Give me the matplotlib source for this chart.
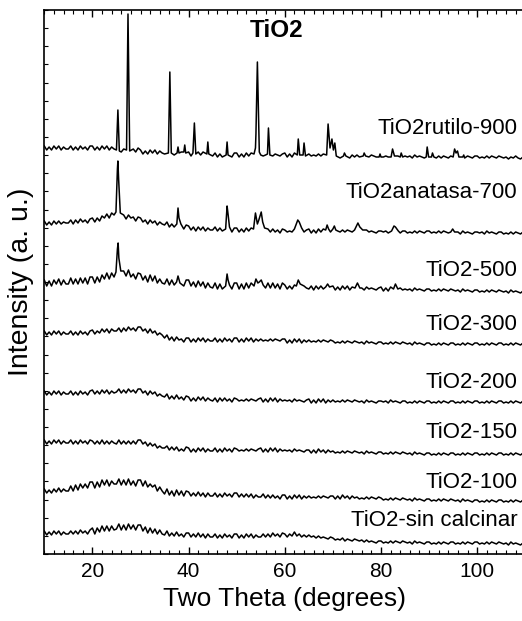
import numpy as np
import matplotlib
matplotlib.use("Agg")
import matplotlib.pyplot as plt
from matplotlib.ticker import MultipleLocator

# two theta grid for the background, 0.5 degree steps (10..110)
two_theta = np.arange(10, 110.5, 0.5)

# background intensity (a. u., already offset per sample)
rutilo_900 = [
    408, 404, 407, 404, 408, 405, 408, 404, 407, 405,
    405, 408, 404, 407, 404, 408, 405, 407, 404, 408,
    408, 404, 407, 404, 408, 405, 408, 404, 407, 405,
    403, 406, 402, 405, 402, 406, 403, 405, 402, 406,
    404, 400, 403, 400, 404, 401, 404, 400, 403, 401,
    400, 403, 399, 402, 399, 403, 400, 402, 399, 403,
    402, 398, 401, 398, 402, 399, 402, 398, 401, 399,
    398, 401, 397, 400, 397, 401, 398, 400, 397, 401,
    401, 397, 400, 397, 401, 398, 401, 397, 400, 398,
    400, 398, 399, 398, 400, 398, 400, 399, 398, 400,
    401, 397, 400, 397, 401, 398, 401, 397, 400, 398,
    400, 398, 399, 398, 400, 398, 400, 399, 398, 400,
    400, 396, 399, 396, 400, 397, 400, 396, 399, 397,
    399, 397, 398, 397, 399, 397, 399, 398, 397, 399,
    399, 397, 398, 397, 399, 397, 399, 398, 397, 399,
    398, 397, 398, 396, 399, 397, 398, 397, 396, 398,
    398, 396, 397, 396, 398, 396, 398, 397, 396, 398,
    398, 396, 397, 396, 398, 396, 398, 397, 396, 398,
    398, 396, 397, 396, 398, 396, 398, 397, 396, 398,
    397, 396, 397, 395, 397, 396, 398, 396, 395, 397, 397]
anatasa_700 = [
    333, 329, 332, 329, 333, 330, 333, 330, 332, 331,
    331, 334, 330, 334, 331, 335, 332, 334, 331, 335,
    336, 332, 336, 333, 338, 336, 340, 336, 341, 339,
    340, 341, 337, 339, 335, 339, 336, 337, 333, 337,
    336, 332, 334, 330, 334, 331, 333, 329, 332, 330,
    329, 332, 327, 330, 327, 331, 327, 328, 325, 329,
    328, 324, 327, 323, 327, 324, 327, 323, 326, 324,
    324, 327, 323, 326, 323, 327, 323, 325, 322, 326,
    326, 322, 325, 322, 326, 323, 326, 322, 325, 323,
    323, 326, 322, 325, 322, 325, 322, 324, 321, 325,
    324, 322, 323, 322, 324, 322, 324, 323, 322, 324,
    325, 321, 324, 321, 325, 322, 325, 321, 324, 322,
    324, 322, 323, 322, 324, 322, 324, 323, 322, 324,
    323, 322, 323, 321, 324, 322, 323, 322, 321, 323,
    323, 322, 323, 321, 324, 322, 323, 322, 321, 323,
    323, 321, 322, 321, 323, 321, 323, 322, 321, 323,
    323, 321, 322, 321, 323, 321, 323, 322, 321, 323,
    322, 321, 322, 320, 323, 321, 322, 321, 320, 322,
    322, 321, 322, 320, 323, 321, 322, 321, 320, 322,
    322, 320, 321, 320, 322, 320, 322, 321, 320, 322, 321]
tio2_500 = [
    274, 268, 273, 268, 274, 270, 275, 269, 274, 270,
    270, 276, 270, 275, 270, 276, 271, 276, 270, 277,
    277, 271, 277, 272, 279, 275, 281, 275, 281, 277,
    278, 284, 278, 283, 278, 284, 277, 280, 275, 281,
    280, 274, 278, 272, 279, 273, 278, 271, 275, 271,
    270, 275, 269, 274, 269, 274, 269, 273, 268, 274,
    274, 268, 272, 267, 273, 268, 272, 266, 271, 267,
    266, 271, 265, 270, 265, 271, 266, 270, 265, 271,
    271, 265, 270, 265, 271, 266, 271, 265, 270, 266,
    267, 272, 266, 271, 266, 271, 266, 270, 265, 271,
    269, 265, 268, 265, 269, 266, 269, 265, 268, 266,
    265, 268, 264, 268, 265, 268, 265, 267, 264, 268,
    268, 264, 267, 264, 268, 265, 268, 264, 267, 265,
    266, 265, 266, 264, 267, 265, 266, 265, 264, 266,
    267, 263, 266, 263, 267, 264, 267, 263, 266, 264,
    265, 264, 265, 263, 266, 264, 265, 264, 263, 265,
    265, 263, 264, 263, 265, 263, 265, 264, 263, 265,
    264, 263, 264, 262, 265, 263, 264, 263, 262, 264,
    264, 262, 263, 262, 264, 262, 264, 263, 262, 264,
    263, 262, 263, 261, 264, 262, 263, 262, 261, 263, 262]
tio2_300 = [
    223, 219, 222, 219, 223, 220, 223, 219, 222, 220,
    220, 223, 219, 222, 219, 223, 220, 222, 219, 223,
    224, 220, 223, 221, 225, 222, 225, 221, 225, 223,
    223, 226, 222, 226, 223, 227, 224, 226, 223, 227,
    227, 223, 225, 221, 225, 221, 223, 219, 221, 219,
    216, 219, 214, 217, 213, 217, 214, 215, 212, 216,
    216, 212, 215, 212, 216, 213, 216, 212, 215, 213,
    213, 216, 212, 215, 212, 216, 213, 215, 212, 216,
    216, 212, 215, 212, 216, 213, 216, 212, 215, 213,
    215, 213, 214, 213, 215, 213, 215, 214, 213, 215,
    215, 211, 214, 211, 215, 212, 215, 211, 214, 212,
    214, 212, 213, 212, 214, 212, 214, 213, 212, 214,
    213, 211, 212, 211, 213, 211, 213, 212, 211, 213,
    212, 211, 212, 210, 213, 211, 212, 211, 210, 212,
    212, 210, 211, 210, 212, 210, 212, 211, 210, 212,
    211, 210, 211, 209, 212, 210, 211, 210, 209, 211,
    211, 209, 210, 209, 211, 209, 211, 210, 209, 211,
    211, 209, 210, 209, 211, 209, 211, 210, 209, 211,
    211, 209, 210, 209, 211, 209, 211, 210, 209, 211,
    211, 209, 210, 209, 211, 209, 211, 210, 209, 211, 210]
tio2_200 = [
    163, 159, 162, 159, 163, 160, 163, 159, 162, 160,
    160, 163, 159, 162, 159, 163, 160, 162, 159, 163,
    164, 160, 163, 160, 164, 161, 164, 160, 163, 161,
    162, 165, 161, 164, 161, 165, 162, 164, 161, 165,
    165, 161, 163, 159, 163, 160, 162, 158, 160, 158,
    157, 160, 155, 158, 155, 159, 155, 157, 154, 158,
    157, 153, 156, 153, 157, 154, 157, 153, 156, 154,
    153, 156, 152, 156, 153, 156, 153, 155, 152, 156,
    155, 153, 154, 153, 155, 153, 155, 154, 153, 155,
    156, 152, 155, 152, 156, 153, 156, 152, 155, 153,
    154, 153, 154, 152, 155, 153, 154, 153, 152, 154,
    155, 151, 154, 151, 155, 152, 155, 151, 154, 152,
    154, 152, 153, 152, 154, 152, 154, 153, 152, 154,
    153, 152, 153, 151, 154, 152, 153, 152, 151, 153,
    153, 152, 153, 151, 154, 152, 153, 152, 151, 153,
    153, 151, 152, 151, 153, 151, 153, 152, 151, 153,
    153, 151, 152, 151, 153, 151, 153, 152, 151, 153,
    153, 151, 152, 151, 153, 151, 153, 152, 151, 153,
    153, 151, 152, 151, 153, 151, 153, 152, 151, 153,
    153, 151, 152, 151, 153, 151, 153, 152, 151, 153, 152]
tio2_150 = [
    114, 110, 113, 110, 114, 111, 114, 110, 113, 111,
    111, 114, 110, 113, 110, 114, 111, 113, 110, 114,
    113, 110, 113, 110, 114, 110, 113, 110, 113, 111,
    110, 114, 110, 113, 110, 113, 110, 113, 110, 114,
    114, 110, 112, 108, 111, 108, 110, 106, 108, 106,
    106, 108, 104, 107, 104, 107, 103, 105, 103, 107,
    106, 102, 105, 102, 106, 103, 106, 102, 105, 103,
    103, 106, 102, 105, 102, 106, 103, 105, 102, 106,
    105, 103, 104, 103, 105, 103, 105, 104, 103, 105,
    106, 102, 105, 102, 106, 103, 106, 102, 105, 103,
    104, 103, 104, 102, 105, 103, 104, 103, 102, 104,
    104, 101, 104, 101, 105, 102, 104, 101, 104, 102,
    103, 101, 102, 101, 103, 101, 103, 102, 101, 103,
    102, 101, 102, 100, 103, 101, 102, 101, 100, 102,
    102, 100, 101, 100, 102, 100, 102, 101, 100, 102,
    101, 100, 101, 99, 102, 100, 101, 100, 99, 101,
    101, 99, 100, 99, 101, 99, 101, 100, 99, 101,
    101, 99, 100, 99, 101, 99, 101, 100, 99, 101,
    101, 99, 100, 99, 101, 99, 101, 100, 99, 101,
    101, 99, 100, 99, 101, 99, 101, 100, 99, 101, 100]
tio2_100 = [
    65, 61, 64, 61, 65, 62, 66, 62, 65, 63,
    63, 68, 63, 69, 64, 70, 66, 70, 66, 72,
    72, 66, 72, 67, 74, 69, 74, 68, 73, 70,
    70, 75, 69, 74, 69, 75, 69, 73, 68, 74,
    74, 68, 73, 67, 70, 67, 69, 63, 67, 63,
    60, 65, 59, 63, 58, 64, 59, 63, 58, 63,
    62, 58, 61, 58, 62, 58, 61, 57, 61, 58,
    58, 61, 57, 60, 57, 61, 58, 60, 57, 61,
    61, 57, 60, 57, 60, 57, 60, 56, 59, 57,
    57, 60, 56, 59, 56, 59, 56, 58, 55, 59,
    59, 55, 58, 55, 59, 56, 59, 55, 58, 56,
    58, 56, 57, 56, 58, 56, 58, 57, 56, 58,
    58, 55, 58, 55, 59, 56, 58, 55, 58, 56,
    57, 55, 56, 55, 57, 55, 57, 56, 55, 57,
    56, 54, 55, 54, 56, 54, 56, 55, 54, 56,
    55, 54, 55, 53, 56, 54, 55, 54, 53, 55,
    55, 53, 54, 53, 55, 53, 55, 54, 53, 55,
    54, 53, 54, 52, 55, 53, 54, 53, 52, 54,
    54, 52, 53, 52, 54, 52, 54, 53, 52, 54,
    54, 52, 53, 52, 54, 52, 54, 53, 52, 54, 53]
sin_calcinar = [
    23, 19, 22, 19, 23, 20, 23, 19, 22, 20,
    20, 23, 20, 23, 20, 24, 21, 23, 20, 24,
    26, 20, 26, 22, 28, 23, 28, 23, 28, 24,
    25, 30, 24, 29, 24, 30, 25, 29, 24, 29,
    29, 23, 27, 21, 26, 21, 25, 20, 24, 20,
    19, 23, 18, 21, 18, 22, 18, 20, 17, 21,
    21, 17, 20, 17, 21, 17, 20, 16, 20, 17,
    17, 20, 16, 19, 16, 20, 17, 19, 16, 20,
    20, 16, 19, 16, 20, 17, 20, 16, 19, 17,
    17, 20, 17, 20, 17, 21, 18, 20, 17, 21,
    20, 17, 20, 18, 22, 18, 20, 17, 19, 17,
    19, 17, 18, 16, 18, 16, 17, 16, 15, 17,
    16, 14, 15, 14, 16, 13, 15, 14, 13, 15,
    14, 13, 14, 12, 14, 12, 13, 12, 11, 13,
    13, 11, 12, 11, 13, 11, 13, 12, 11, 13,
    12, 11, 12, 10, 13, 11, 12, 11, 10, 12,
    12, 10, 11, 10, 12, 10, 12, 11, 10, 12,
    12, 10, 11, 10, 12, 10, 12, 11, 10, 12,
    12, 10, 11, 10, 12, 10, 12, 11, 10, 12,
    11, 10, 11, 9, 12, 10, 11, 10, 9, 11, 11]

# reflections (two theta, intensity), foot - top - foot
rutilo_peak_x = [25.0, 25.3, 25.6, 27.1, 27.4, 27.75, 35.8, 36.1, 36.4,
                 37.6, 37.8, 38.0, 39.0, 39.2, 39.4, 40.9, 41.2, 41.5,
                 43.8, 44.0, 44.2, 47.8, 48.0, 48.2,
                 53.6, 53.9, 54.0, 54.3, 54.7, 55.0, 56.4, 56.6, 56.9,
                 62.6, 62.8, 63.1, 63.8, 64.0, 64.3,
                 68.7, 69.0, 69.4, 69.8, 70.1, 70.4, 70.7,
                 72.2, 72.4, 72.7, 76.3, 76.5, 76.8, 79.6, 79.8, 80.0,
                 82.1, 82.4, 82.8, 84.0, 84.2, 84.5, 89.4, 89.6, 89.9,
                 90.5, 90.7, 91.0, 95.0, 95.3, 95.6, 95.9, 96.2,
                 97.0, 97.2, 97.4]
rutilo_peak_y = [404, 444, 403, 404, 540, 403, 401, 482, 401,
                 401, 407, 401, 402, 409, 401, 401, 431, 400,
                 400, 412, 400, 399, 412, 399,
                 400, 406, 420, 492, 402, 399, 400, 426, 399,
                 399, 415, 399, 399, 411, 398,
                 399, 430, 406, 415, 404, 411, 398,
                 398, 401, 398, 398, 401, 398, 397, 400, 397,
                 397, 405, 398, 397, 401, 397, 397, 407, 397,
                 397, 401, 397, 397, 405, 401, 403, 397,
                 397, 399, 396]

anatasa_peak_x = [24.9, 25.2, 25.3, 25.45, 25.8, 37.55, 37.8, 38.0, 38.4,
                  47.7, 48.0, 48.2, 48.5,
                  53.5, 53.9, 54.3, 54.6, 55.1, 55.4, 55.8,
                  62.0, 62.4, 62.7, 63.0, 63.5,
                  68.5, 68.8, 69.1, 70.0, 70.3, 70.6,
                  74.5, 75.0, 75.2, 75.6, 76.2, 82.2, 82.7, 83.0, 83.6,
                  94.5, 94.9, 95.3]
anatasa_peak_y = [342, 385, 393, 375, 341, 330, 346, 336, 330,
                  325, 348, 340, 327,
                  325, 341, 330, 334, 342, 332, 326,
                  325, 330, 334, 332, 326,
                  324, 329, 325, 325, 328, 324,
                  324, 329, 331, 327, 324, 323, 328, 327, 323,
                  322, 325, 322]

tio2_500_peak_x = [24.9, 25.2, 25.35, 25.5, 25.9, 37.5, 37.8, 38.2,
                   47.7, 48.0, 48.2, 48.5,
                   53.6, 54.0, 54.4, 54.7, 55.1, 55.5,
                   62.4, 62.8, 63.2, 68.5, 68.9, 69.3,
                   74.6, 75.1, 75.6, 82.6, 83.0, 83.5]
tio2_500_peak_y = [282, 305, 311, 296, 283, 272, 278, 271,
                   268, 280, 274, 269,
                   268, 275, 271, 272, 274, 269,
                   268, 274, 270, 267, 270, 267,
                   266, 271, 266, 265, 270, 265]

sample_names = ['TiO2rutilo-900', 'TiO2anatasa-700', 'TiO2-500', 'TiO2-300',
                'TiO2-200', 'TiO2-150', 'TiO2-100', 'TiO2-sin calcinar']


def build_trace(background, peak_x=(), peak_y=()):
    # put the reflections on top of the background, dropping grid points under them
    bg = np.asarray(background, dtype=float)
    px = np.asarray(peak_x, dtype=float)
    py = np.asarray(peak_y, dtype=float)
    if len(px) == 0:
        return two_theta, bg
    keep = np.min(np.abs(two_theta[:, None] - px[None, :]), axis=1) > 0.3
    x = np.concatenate([two_theta[keep], px])
    y = np.concatenate([bg[keep], py])
    order = np.argsort(x, kind='stable')
    return x[order], y[order]


traces = [
    build_trace(rutilo_900, rutilo_peak_x, rutilo_peak_y),
    build_trace(anatasa_700, anatasa_peak_x, anatasa_peak_y),
    build_trace(tio2_500, tio2_500_peak_x, tio2_500_peak_y),
    build_trace(tio2_300),
    build_trace(tio2_200),
    build_trace(tio2_150),
    build_trace(tio2_100),
    build_trace(sin_calcinar),
]

# layout: where each name sits (intensity units)
label_y = [426, 361, 284, 229, 172, 121, 71, 33]

plt.rcParams['font.family'] = ['Liberation Sans', 'DejaVu Sans']

fig = plt.figure(figsize=(5.22, 6.21), dpi=100)
ax = fig.add_axes([44.3 / 522, 67 / 621, 481 / 522, 544 / 621])

for (x, y) in traces:
    ax.plot(x, y, color='black', lw=1.1)

for name, ly in zip(sample_names, label_y):
    ax.text(108.4, ly, name, ha='right', va='center', fontsize=16)

ax.text(0.483, 0.962, 'TiO2', transform=ax.transAxes, ha='center', va='center',
        fontsize=17.5, fontweight='bold')

ax.set_xlim(10, 110)
ax.set_ylim(0, 544)
ax.xaxis.set_major_locator(MultipleLocator(20))
ax.xaxis.set_minor_locator(MultipleLocator(2))
ax.yaxis.set_major_locator(MultipleLocator(18.13))
ax.set_yticklabels([])
ax.tick_params(axis='both', which='both', direction='in', top=True, right=False)
ax.tick_params(axis='x', which='major', length=5, width=1.0, labelsize=15, pad=6)
ax.tick_params(axis='x', which='minor', length=3, width=0.8)
ax.tick_params(axis='y', which='major', length=3, width=0.8)
for sp in ax.spines.values():
    sp.set_linewidth(1.2)

ax.set_xlabel('Two Theta (degrees)', fontsize=19, labelpad=4)
ax.set_ylabel('Intensity (a. u.)', fontsize=20.5, labelpad=4)

fig.savefig('out.png', dpi=100)
